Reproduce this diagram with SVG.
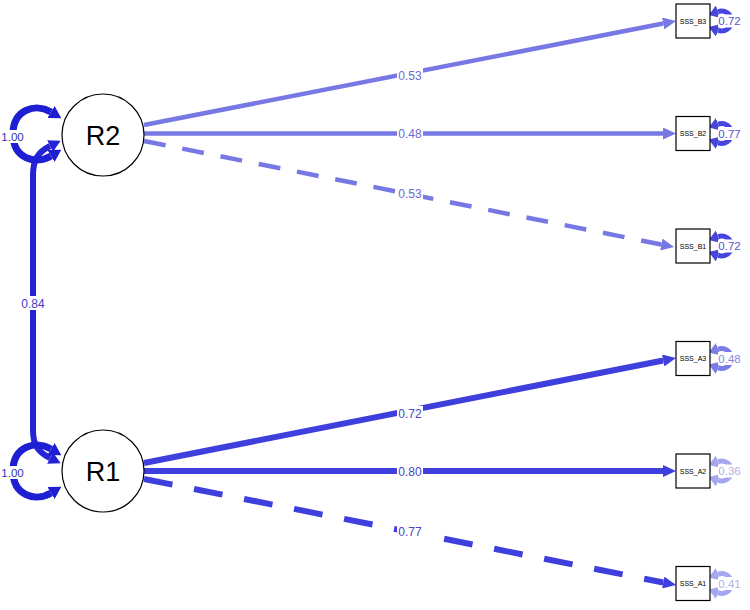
<svg xmlns="http://www.w3.org/2000/svg" width="750" height="610" viewBox="0 0 750 610">
<style>
.node{fill:#fff;stroke:#000;stroke-width:1.2}
.big{font-family:"Liberation Sans",Arial,sans-serif;font-size:27px;fill:#000;text-anchor:middle}
.small{font-family:"Liberation Sans",Arial,sans-serif;font-size:7px;fill:#000;text-anchor:middle}
.lbl{font-family:"Liberation Sans",Arial,sans-serif;font-size:12px;text-anchor:middle}
.rlbl{font-family:"Liberation Sans",Arial,sans-serif;font-size:11.5px;text-anchor:middle}
.bg{fill:#fff}
.e2{fill:none;stroke:#7878e4;stroke-width:4.5}
.e1{fill:none;stroke:#3f3fde;stroke-width:6}
.cov{fill:none;stroke:#2424d6;stroke-width:6}
.rl{fill:none;stroke:#1e1ed2;stroke-width:7}
.resB{fill:none;stroke:#4646de;stroke-width:5}
.resA3{fill:none;stroke:#7b7be8;stroke-width:5}
.resA{fill:none;stroke:#a6a6f0;stroke-width:5}
</style>
<defs>
<marker id="a2" markerUnits="userSpaceOnUse" viewBox="0 -6 13 12" refX="0" refY="0" markerWidth="13" markerHeight="12" orient="auto"><path d="M0,-6 L13,0 L0,6 z" fill="#7878e4"/></marker>
<marker id="a1" markerUnits="userSpaceOnUse" viewBox="0 -6 13 12" refX="0" refY="0" markerWidth="13" markerHeight="12" orient="auto"><path d="M0,-6 L13,0 L0,6 z" fill="#3f3fde"/></marker>
<marker id="ac" markerUnits="userSpaceOnUse" viewBox="0 -6.5 12 13" refX="0" refY="0" markerWidth="12" markerHeight="13" orient="auto-start-reverse"><path d="M0,-6.5 L12,0 L0,6.5 z" fill="#2424d6"/></marker>
<marker id="al" markerUnits="userSpaceOnUse" viewBox="0 -7 12 14" refX="0" refY="0" markerWidth="12" markerHeight="14" orient="auto-start-reverse"><path d="M0,-7 L12,0 L0,7 z" fill="#1e1ed2"/></marker>
<marker id="rB" markerUnits="userSpaceOnUse" viewBox="0 -6.5 10 13" refX="0" refY="0" markerWidth="10" markerHeight="13" orient="auto-start-reverse"><path d="M0,-6.5 L10,0 L0,6.5 z" fill="#4646de"/></marker>
<marker id="rA3" markerUnits="userSpaceOnUse" viewBox="0 -6.5 10 13" refX="0" refY="0" markerWidth="10" markerHeight="13" orient="auto-start-reverse"><path d="M0,-6.5 L10,0 L0,6.5 z" fill="#7b7be8"/></marker>
<marker id="rA" markerUnits="userSpaceOnUse" viewBox="0 -6.5 10 13" refX="0" refY="0" markerWidth="10" markerHeight="13" orient="auto-start-reverse"><path d="M0,-6.5 L10,0 L0,6.5 z" fill="#a6a6f0"/></marker>
</defs>
<g id="connectors">
<!-- R2 loadings -->
<path class="e2" d="M144,125 L663.2,23.5" marker-end="url(#a2)"/>
<path class="e2" d="M144,133.5 L663,133.5" marker-end="url(#a2)"/>
<path class="e2" d="M144,141 L661.3,244.5" stroke-dasharray="22 17" marker-end="url(#a2)"/>
<!-- R1 loadings -->
<path class="e1" d="M144,463 L663.2,360.5" marker-end="url(#a1)"/>
<path class="e1" d="M144,471 L663,471" marker-end="url(#a1)"/>
<path class="e1" d="M144,479 L663.3,582.5" stroke-dasharray="29 22" marker-end="url(#a1)"/>
<!-- covariance -->
<path class="cov" d="M50,146 C38,152 33,160 33,175 L33,430 C33,445 38,452 50,458" marker-start="url(#ac)" marker-end="url(#ac)"/>
<!-- latent variances -->
<path class="rl" d="M51,112 C36,103 13,109 13,134 C13,159 36,165 51,156" marker-start="url(#al)" marker-end="url(#al)"/>
<path class="rl" d="M51,449 C36,440 13,446 13,471 C13,496 36,502 51,493" marker-start="url(#al)" marker-end="url(#al)"/>
<!-- residual loops -->
<path class="resB" d="M718.1,11.6 A10,10 0 1 1 718.1,30.4" marker-start="url(#rB)" marker-end="url(#rB)"/>
<path class="resB" d="M718.1,124.1 A10,10 0 1 1 718.1,142.9" marker-start="url(#rB)" marker-end="url(#rB)"/>
<path class="resB" d="M718.1,236.6 A10,10 0 1 1 718.1,255.4" marker-start="url(#rB)" marker-end="url(#rB)"/>
<path class="resA3" d="M718.1,349.1 A10,10 0 1 1 718.1,367.9" marker-start="url(#rA3)" marker-end="url(#rA3)"/>
<path class="resA" d="M718.1,461.6 A10,10 0 1 1 718.1,480.4" marker-start="url(#rA)" marker-end="url(#rA)"/>
<path class="resA" d="M718.1,574.1 A10,10 0 1 1 718.1,592.9" marker-start="url(#rA)" marker-end="url(#rA)"/>
<!-- labels -->
<rect class="bg" x="397" y="68" width="26" height="14"/><text class="lbl" x="410" y="79.5" fill="#6c6cd2">0.53</text>
<rect class="bg" x="397" y="126.5" width="26" height="14"/><text class="lbl" x="410" y="138" fill="#6c6cd2">0.48</text>
<rect class="bg" x="397" y="186" width="26" height="14"/><text class="lbl" x="410" y="197.5" fill="#6c6cd2">0.53</text>
<rect class="bg" x="397" y="406" width="26" height="14"/><text class="lbl" x="410" y="417.5" fill="#4646c6">0.72</text>
<rect class="bg" x="397" y="464" width="26" height="14"/><text class="lbl" x="410" y="475.5" fill="#4646c6">0.80</text>
<rect class="bg" x="397" y="524" width="26" height="14"/><text class="lbl" x="410" y="535.5" fill="#4646c6">0.77</text>
<rect class="bg" x="20" y="296" width="26" height="14"/><text class="lbl" x="33" y="307.5" fill="#4040c4">0.84</text>
<rect class="bg" x="1" y="130" width="23" height="13"/><text class="rlbl" x="12.5" y="141" fill="#3434b4">1.00</text>
<rect class="bg" x="1" y="466" width="23" height="13"/><text class="rlbl" x="12.5" y="477" fill="#3434b4">1.00</text>
<rect class="bg" x="718" y="14.5" width="23" height="13"/><text class="rlbl" x="729.5" y="25" fill="#5656d2">0.72</text>
<rect class="bg" x="718" y="127" width="23" height="13"/><text class="rlbl" x="729.5" y="137.5" fill="#5656d2">0.77</text>
<rect class="bg" x="718" y="239.5" width="23" height="13"/><text class="rlbl" x="729.5" y="250" fill="#5656d2">0.72</text>
<rect class="bg" x="718" y="352" width="23" height="13"/><text class="rlbl" x="729.5" y="362.5" fill="#8686e0">0.48</text>
<rect class="bg" x="718" y="464.5" width="23" height="13"/><text class="rlbl" x="729.5" y="475" fill="#b0b0ec">0.36</text>
<rect class="bg" x="718" y="577" width="23" height="13"/><text class="rlbl" x="729.5" y="587.5" fill="#b0b0ec">0.41</text>
</g>
<g id="R2"><circle class="node" cx="103" cy="135" r="41"/><text class="big" x="103" y="145">R2</text></g>
<g id="R1"><circle class="node" cx="103" cy="471" r="41"/><text class="big" x="103" y="481">R1</text></g>
<g id="SSS_B3"><rect class="node" x="676" y="4" width="34" height="34"/><text class="small" x="693" y="23.5">SSS_B3</text></g>
<g id="SSS_B2"><rect class="node" x="676" y="116.5" width="34" height="34"/><text class="small" x="693" y="136">SSS_B2</text></g>
<g id="SSS_B1"><rect class="node" x="676" y="229" width="34" height="34"/><text class="small" x="693" y="248.5">SSS_B1</text></g>
<g id="SSS_A3"><rect class="node" x="676" y="341.5" width="34" height="34"/><text class="small" x="693" y="361">SSS_A3</text></g>
<g id="SSS_A2"><rect class="node" x="676" y="454" width="34" height="34"/><text class="small" x="693" y="473.5">SSS_A2</text></g>
<g id="SSS_A1"><rect class="node" x="676" y="566.5" width="34" height="34"/><text class="small" x="693" y="586">SSS_A1</text></g>
</svg>
